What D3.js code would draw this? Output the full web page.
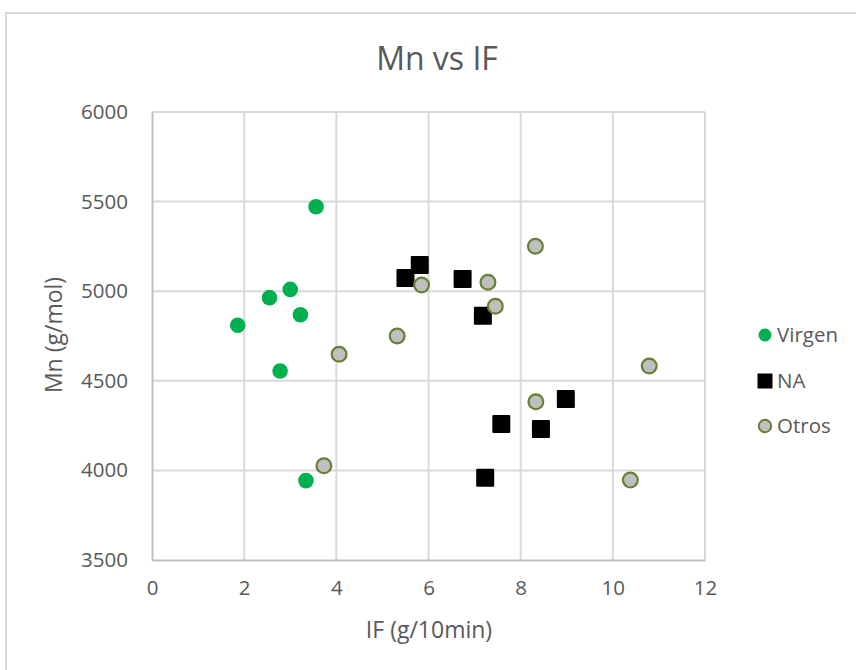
<!DOCTYPE html>
<html>
<head>
<meta charset="utf-8">
<script src="https://cdn.jsdelivr.net/npm/d3@7"></script>
<style>
  html, body { margin: 0; padding: 0; background: #fff; }
  svg { display: block; }
  text { font-family: "Open Sans", "Liberation Sans", sans-serif; fill: #595959; }
</style>
</head>
<body>
<div id="chart"></div>
<script>
// ---- Data ----
const seriesNames = ["Virgen", "NA", "Otros"];
const virgenIF = [1.86, 2.55, 3.00, 3.22, 2.78, 3.56, 3.34];
const virgenMn = [4810, 4964, 5010, 4869, 4555, 5471, 3943];
const naIF = [5.50, 5.81, 6.74, 7.18, 8.98, 8.44, 7.58, 7.23];
const naMn = [5074, 5146, 5068, 4863, 4398, 4231, 4259, 3959];
const otrosIF = [3.73, 4.06, 5.32, 5.85, 7.29, 7.45, 8.32, 8.33, 10.38, 10.79];
const otrosMn = [4026, 4648, 4750, 5035, 5050, 4916, 5251, 4383, 3946, 4583];
const xTicks = [0, 2, 4, 6, 8, 10, 12];
const yTicks = [3500, 4000, 4500, 5000, 5500, 6000];
const titleText = "Mn vs IF";
const xTitle = "IF (g/10min)";
const yTitle = "Mn (g/mol)";

// ---- Layout ----
const W = 856, H = 670;
const pL = 152, pR = 705, pT = 112, pB = 560;

const svg = d3.select("#chart").append("svg").attr("width", W).attr("height", H);
svg.append("rect").attr("width", W).attr("height", H).attr("fill", "#fff");
// chart border
svg.append("rect").attr("x", 6).attr("y", 13).attr("width", W + 20).attr("height", H + 20)
  .attr("fill", "none").attr("stroke", "#d9d9d9").attr("stroke-width", 2);

const x = d3.scaleLinear().domain([0, 12]).range([pL, pR]);
const y = d3.scaleLinear().domain([3500, 6000]).range([pB, pT]);

// gridlines
const grid = svg.append("g");
grid.selectAll("line.h").data(yTicks.filter(d => d !== 3500)).enter().append("line")
  .attr("x1", pL).attr("x2", pR).attr("y1", d => y(d)).attr("y2", d => y(d))
  .attr("stroke", "#d9d9d9").attr("stroke-width", 2);
grid.selectAll("line.v").data(xTicks.filter(d => d !== 0)).enter().append("line")
  .attr("y1", pT).attr("y2", pB).attr("x1", d => x(d)).attr("x2", d => x(d))
  .attr("stroke", "#d9d9d9").attr("stroke-width", 2);

// axes
const xAxis = d3.axisBottom(x).tickValues(xTicks).tickSize(0).tickPadding(20).tickFormat(d3.format("d"));
const yAxis = d3.axisLeft(y).tickValues(yTicks).tickSize(0).tickPadding(24).tickFormat(d3.format("d"));
const gx = svg.append("g").attr("transform", `translate(0,${pB})`).call(xAxis);
const gy = svg.append("g").attr("transform", `translate(${pL},0)`).call(yAxis);
[gx, gy].forEach(g => {
  g.select(".domain").attr("stroke", "#bfbfbf").attr("stroke-width", 2);
  g.selectAll("text").attr("font-size", 20.5).attr("fill", "#595959")
    .attr("font-family", "'Open Sans', sans-serif");
});

// titles
svg.append("text").attr("x", 437).attr("y", 70).attr("text-anchor", "middle")
  .attr("font-size", 32).text(titleText);
svg.append("text").attr("x", 429).attr("y", 638).attr("text-anchor", "middle")
  .attr("font-size", 23).text(xTitle);
svg.append("text").attr("transform", "translate(62,335) rotate(-90)").attr("text-anchor", "middle")
  .attr("font-size", 23).text(yTitle);

// series
const virgen = virgenIF.map((d, i) => ({ x: d, y: virgenMn[i] }));
const na = naIF.map((d, i) => ({ x: d, y: naMn[i] }));
const otros = otrosIF.map((d, i) => ({ x: d, y: otrosMn[i] }));

svg.append("g").selectAll("circle").data(virgen).enter().append("circle")
  .attr("cx", d => x(d.x)).attr("cy", d => y(d.y)).attr("r", 7.8).attr("fill", "#00b050");
svg.append("g").selectAll("rect").data(na).enter().append("rect")
  .attr("x", d => x(d.x) - 9).attr("y", d => y(d.y) - 9).attr("width", 18).attr("height", 18)
  .attr("rx", 1).attr("fill", "#000");
svg.append("g").selectAll("circle").data(otros).enter().append("circle")
  .attr("cx", d => x(d.x)).attr("cy", d => y(d.y)).attr("r", 7.4)
  .attr("fill", "#bfbfbf").attr("stroke", "#667f31").attr("stroke-width", 2.2);

// legend
const lg = svg.append("g");
const ly = [335, 381, 426];
lg.append("circle").attr("cx", 765).attr("cy", ly[0]).attr("r", 6.5).attr("fill", "#00b050");
lg.append("rect").attr("x", 765 - 7.5).attr("y", ly[1] - 7.5).attr("width", 15).attr("height", 15).attr("fill", "#000");
lg.append("circle").attr("cx", 765).attr("cy", ly[2]).attr("r", 6.2)
  .attr("fill", "#bfbfbf").attr("stroke", "#667f31").attr("stroke-width", 2);
seriesNames.forEach((n, i) => {
  lg.append("text").attr("x", 777).attr("y", ly[i]).attr("dy", "0.36em")
    .attr("font-size", 20.5).text(n);
});
</script>
</body>
</html>
